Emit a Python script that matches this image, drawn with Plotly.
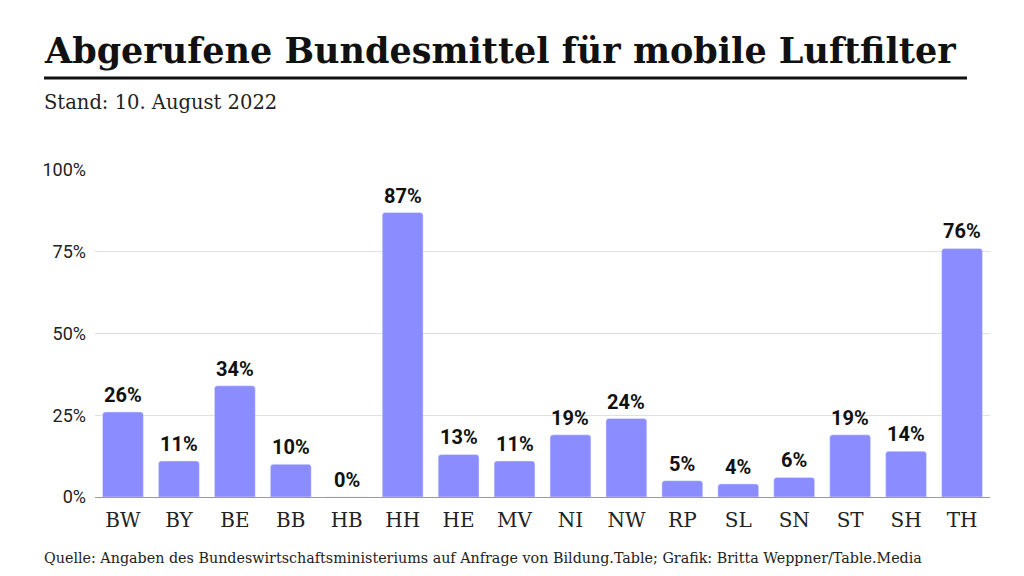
import plotly.graph_objects as go

# Daten: abgerufene Bundesmittel je Bundesland (in %)
laender = ["BW", "BY", "BE", "BB", "HB", "HH", "HE", "MV",
           "NI", "NW", "RP", "SL", "SN", "ST", "SH", "TH"]
anteil = [26, 11, 34, 10, 0, 87, 13, 11, 19, 24, 5, 4, 6, 19, 14, 76]
y_ticks = [0, 25, 50, 75, 100]
y_labels = ["0%", "25%", "50%", "75%", "100%"]

serif = "Roboto Slab, DejaVu Serif, serif"
sans = "Roboto, sans-serif"

# Seite hat 8px Rand -> Figur etwas kleiner, Koordinaten um 8px verschoben
PL, PR, PT, PB = 95, 990, 170, 497   # Plotfläche in Bildschirmpixeln
W, H = PR - PL, PB - PT


def px(x):
    return (x - PL) / W


def py(y):
    return (PB - y) / H


fig = go.Figure()
fig.add_trace(go.Bar(
    x=laender,
    y=anteil,
    marker=dict(color="#8a8cff", cornerradius=3),
    hovertemplate="%{x}: %{y}%<extra></extra>",
))

# Wertebeschriftungen über den Balken
for land, wert in zip(laender, anteil):
    fig.add_annotation(x=land, y=wert, text=f"<b>{wert}%</b>",
                       xref="x", yref="y", showarrow=False,
                       yanchor="bottom", yshift=3,
                       font=dict(family=sans, size=20, color="#111111"))

fig.update_layout(
    width=1008,
    height=560,
    plot_bgcolor="white",
    paper_bgcolor="white",
    margin=dict(l=PL - 8, r=1016 - PR, t=PT - 8, b=568 - PB),
    bargap=0.27,
    showlegend=False,
    xaxis=dict(
        tickfont=dict(family=serif, size=20, color="#222222"),
        showgrid=False,
        showline=False,
        ticks="",
        ticklabelstandoff=9,
    ),
    yaxis=dict(
        range=[0, 100],
        tickvals=y_ticks,
        ticktext=y_labels,
        tickfont=dict(family=sans, size=18, color="#222222"),
        gridcolor="#e0e0e0",
        zeroline=True,
        zerolinecolor="#9a9a9a",
        zerolinewidth=1,
        ticks="",
        ticklabelstandoff=8,
    ),
)

# Titel, Untertitel und Quelle
fig.add_annotation(text="<b>Abgerufene Bundesmittel für mobile Luftfilter</b>",
                   xref="paper", yref="paper", x=px(42), y=py(50),
                   xanchor="left", yanchor="middle", showarrow=False,
                   font=dict(family=serif, size=35, color="#111111"))
fig.add_annotation(text="Stand: 10. August 2022",
                   xref="paper", yref="paper", x=px(42), y=py(103),
                   xanchor="left", yanchor="middle", showarrow=False,
                   font=dict(family=serif, size=19.5, color="#222222"))
fig.add_annotation(text="Quelle: Angaben des Bundeswirtschaftsministeriums auf Anfrage von Bildung.Table; Grafik: Britta Weppner/Table.Media",
                   xref="paper", yref="paper", x=px(42), y=py(558),
                   xanchor="left", yanchor="middle", showarrow=False,
                   font=dict(family=serif, size=14.3, color="#222222"))

# Linie unter dem Titel
fig.add_shape(type="line", xref="paper", yref="paper",
              x0=px(44), x1=px(967), y0=py(78), y1=py(78),
              line=dict(color="#111111", width=3))

fig.write_html("out.html")
